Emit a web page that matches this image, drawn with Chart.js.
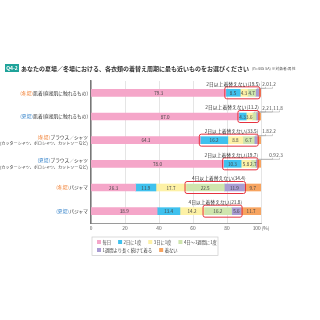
<!DOCTYPE html>
<html>
<head>
<meta charset="utf-8">
<script src="https://cdn.jsdelivr.net/npm/chart.js@4.4.0/dist/chart.umd.min.js"></script>
<style>
  html, body { margin: 0; padding: 0; background: #fff; }
  canvas { display: block; }
</style>
</head>
<body>
<canvas id="c" width="320" height="320"></canvas>
<script>
const seasons = ['冬場', '夏場', '冬場', '夏場', '冬場', '夏場'];
const items = ['肌着(直接肌に触れるもの)', '肌着(直接肌に触れるもの)', 'ブラウス／シャツ', 'ブラウス／シャツ', 'パジャマ', 'パジャマ'];
const subLines = ['', '', '(カッターシャツ、ポロシャツ、カットソーなど)', '(カッターシャツ、ポロシャツ、カットソーなど)', '', ''];

const seriesNames = ['毎日', '2日に1度', '3日に1度', '4日～1週間に1度', '1週間より長く続けて着る', '着ない'];
const daily     = [79.3, 87.0, 64.3, 78.0, 26.3, 38.9];
const every2    = [8.5, 4.3, 16.2, 10.3, 11.9, 13.4];
const every3    = [4.3, 3.6, 8.8, 5.8, 17.7, 14.2];
const every4to7 = [4.7, 2.2, 6.7, 2.7, 22.5, 16.2];
const overWeek  = [2.0, 1.1, 1.8, 0.9, 11.9, 5.6];
const never     = [1.2, 1.8, 2.2, 2.3, 9.7, 11.7];

const groupText = ['2日以上着替えない(19.5)', '2日以上着替えない(11.2)', '2日以上着替えない(33.5)', '2日以上着替えない(19.7)', '4日以上着替えない(34.4)', '4日以上着替えない(21.8)'];
const groupFrom = [1, 1, 1, 1, 3, 3];
const groupTo   = [4, 4, 4, 4, 4, 4];

const colors = ['#f5a6c9', '#3fc1ee', '#fdf1a6', '#cfe5ad', '#a99cd3', '#f7a460'];
const FONT = '"Noto Sans CJK JP", "Noto Sans", sans-serif';

const allSeries = [daily, every2, every3, every4to7, overWeek, never];

const decor = {
  id: 'decor',
  afterDatasetsDraw(chart) {
    const ctx = chart.ctx;
    const metas = allSeries.map((s, k) => chart.getDatasetMeta(k));
    ctx.save();

    // values inside the bars, small ones outside with leaders
    for (let i = 0; i < daily.length; i++) {
      let outK = 0;
      for (let k = 0; k < allSeries.length; k++) {
        const el = metas[k].data[i];
        const v = allSeries[k][i];
        const cx = (el.x + el.base) / 2;
        ctx.font = '4.6px ' + FONT;
        ctx.textBaseline = 'middle';
        ctx.textAlign = 'center';
        ctx.fillStyle = '#444';
        if (v >= 2.5) {
          ctx.fillText(v.toFixed(1), cx, el.y + 0.3);
        } else {
          const right = chart.scales.x.getPixelForValue(100);
          const lx = right + 4.5 + outK * 7 + (i === 3 ? 7 : 0);
          const ly = el.y - 8.5;
          ctx.fillText(v.toFixed(1), lx, ly);
          ctx.strokeStyle = '#999';
          ctx.lineWidth = 0.5;
          ctx.beginPath();
          ctx.moveTo(cx, el.y - el.height / 2);
          ctx.lineTo(cx, ly + 4);
          ctx.lineTo(lx, ly + 4);
          ctx.lineTo(lx, ly + 2.5);
          ctx.stroke();
          outK++;
        }
      }
    }

    // red group boxes and their captions
    for (let i = 0; i < daily.length; i++) {
      const a = metas[groupFrom[i]].data[i];
      const b = metas[groupTo[i]].data[i];
      const x0 = a.base - 1, x1 = b.x + 1;
      const y0 = a.y - 6, y1 = a.y + 6;
      ctx.strokeStyle = '#e5323f';
      ctx.lineWidth = 1;
      ctx.beginPath();
      ctx.roundRect(x0, y0, x1 - x0, y1 - y0, 2);
      ctx.stroke();
      ctx.fillStyle = '#333';
      ctx.font = '4.8px ' + FONT;
      ctx.textAlign = 'right';
      ctx.textBaseline = 'middle';
      ctx.fillText(groupText[i], x1, y0 - 3);
    }
    ctx.restore();
  },
  afterDraw(chart) {
    const ctx = chart.ctx;
    ctx.save();

    // title
    ctx.fillStyle = '#1fa39a';
    ctx.fillRect(5, 64, 14, 8);
    ctx.fillStyle = '#fff';
    ctx.font = 'bold 5px ' + FONT;
    ctx.textAlign = 'center';
    ctx.textBaseline = 'middle';
    ctx.fillText('Q4-2', 12, 68.3);
    ctx.fillStyle = '#333';
    ctx.font = 'bold 6px ' + FONT;
    ctx.textAlign = 'left';
    const title = 'あなたの夏場／冬場における、各衣類の着替え周期に最も近いものをお選びください';
    ctx.fillText(title, 21, 68.3);
    const tw = ctx.measureText(title).width;
    ctx.font = '3.8px ' + FONT;
    ctx.fillStyle = '#555';
    ctx.fillText('(n=445 SA) ※対象者:男性', 21 + tw + 3, 68.5);

    // category labels
    const y = chart.scales.y;
    for (let i = 0; i < items.length; i++) {
      const cy = y.getPixelForValue(i);
      const lines = subLines[i] ? [cy - 3.3, cy + 3.3] : [cy];
      ctx.font = '4.7px ' + FONT;
      ctx.textBaseline = 'middle';
      ctx.textAlign = 'right';
      const rx = chart.chartArea.left - 3;
      ctx.fillStyle = '#333';
      ctx.fillText(items[i], rx, lines[0]);
      const w = ctx.measureText(items[i]).width;
      ctx.fillStyle = seasons[i] === '冬場' ? '#f07a2a' : '#2f7fc8';
      ctx.fillText('(' + seasons[i] + ')', rx - w - 0.5, lines[0]);
      if (subLines[i]) {
        ctx.font = '4.1px ' + FONT;
        ctx.fillStyle = '#333';
        ctx.fillText(subLines[i], rx, lines[1]);
      }
    }

    // legend
    const lx0 = chart.chartArea.left + 1, ly0 = 237;
    ctx.strokeStyle = '#ccc';
    ctx.lineWidth = 0.7;
    ctx.strokeRect(lx0, ly0, 126, 18.5);
    ctx.font = '4.3px ' + FONT;
    ctx.textAlign = 'left';
    ctx.textBaseline = 'middle';
    let x = lx0 + 5, row = 0;
    for (let k = 0; k < seriesNames.length; k++) {
      if (k === 4) { x = lx0 + 5; row = 1; }
      const yy = ly0 + 5 + row * 8;
      ctx.fillStyle = colors[k];
      ctx.fillRect(x, yy - 2, 4, 4);
      ctx.fillStyle = '#444';
      ctx.fillText(seriesNames[k], x + 5.5, yy);
      x += 5.5 + ctx.measureText(seriesNames[k]).width + 7;
    }
    ctx.restore();
  }
};

new Chart(document.getElementById('c'), {
  type: 'bar',
  data: {
    labels: items.map((t, i) => seasons[i] + t),
    datasets: allSeries.map((s, k) => ({
      label: seriesNames[k],
      data: s,
      backgroundColor: colors[k],
      borderWidth: 0,
      barThickness: 7
    }))
  },
  options: {
    indexAxis: 'y',
    responsive: false,
    animation: false,
    layout: { padding: { left: 91, right: 59, top: 81, bottom: 85 } },
    plugins: {
      legend: { display: false },
      title: { display: false },
      tooltip: { enabled: false }
    },
    scales: {
      x: {
        stacked: true,
        min: 0,
        max: 100,
        afterFit: s => { s.height = 12; },
        ticks: {
          stepSize: 20,
          padding: 2,
          color: '#555',
          font: { size: 4.8, family: FONT },
          callback: v => v === 100 ? '100 (%)' : v
        },
        grid: { color: '#dedede', lineWidth: 0.8, drawTicks: false },
        border: { display: true, color: '#9a9a9a', width: 1 }
      },
      y: {
        stacked: true,
        afterFit: s => { s.width = 0; },
        ticks: { display: false },
        grid: { display: false },
        border: { display: true, color: '#777', width: 1.5 }
      }
    }
  },
  plugins: [decor]
});
</script>
</body>
</html>
